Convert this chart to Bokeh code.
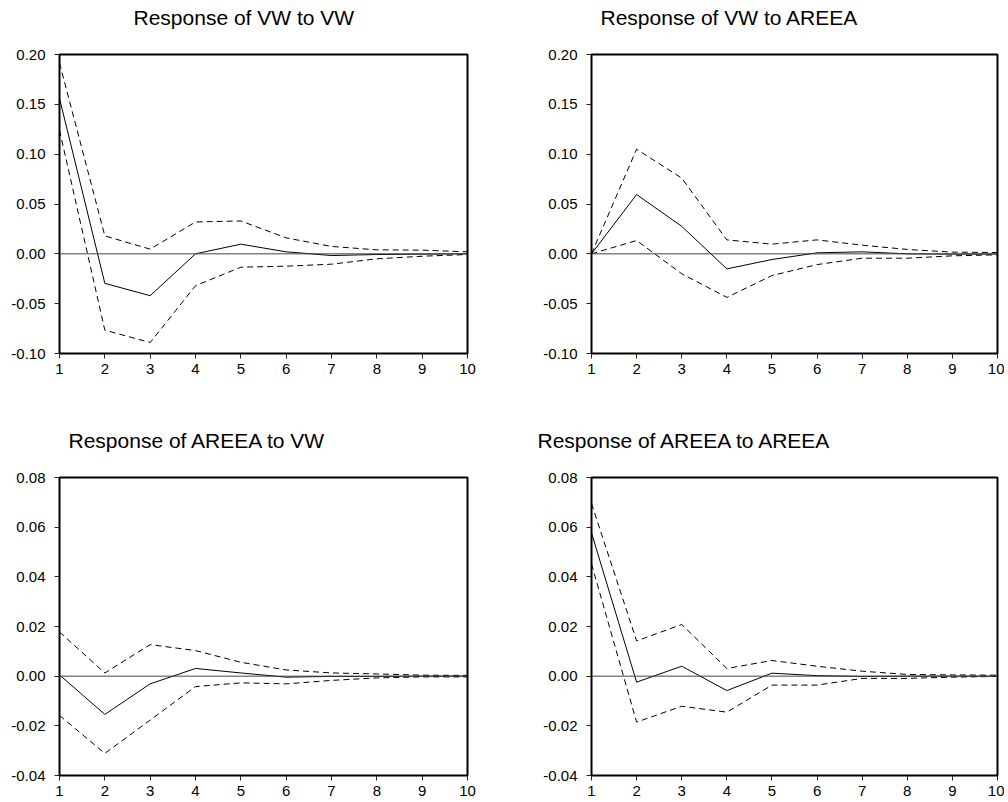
from bokeh.plotting import figure
from bokeh.models import Range1d, FixedTicker, Span, Title, PrintfTickFormatter
from bokeh.layouts import column, row
from bokeh.embed import file_html
from bokeh.resources import INLINE

periods = [1, 2, 3, 4, 5, 6, 7, 8, 9, 10]

titles = ["Response of VW to VW", "Response of VW to AREEA",
          "Response of AREEA to VW", "Response of AREEA to AREEA"]

# Response of VW to VW
vw_vw_resp = [0.156, -0.0296, -0.042, 0.0, 0.0097, 0.002, -0.0017, -0.0007, -0.0003, 0.0]
vw_vw_upper = [0.1915, 0.018, 0.0047, 0.032, 0.033, 0.016, 0.0074, 0.004, 0.0037, 0.002]
vw_vw_lower = [0.124, -0.0766, -0.089, -0.032, -0.0134, -0.0124, -0.0104, -0.005, -0.0024, -0.0007]

# Response of VW to AREEA
vw_ar_resp = [0.0, 0.0595, 0.0276, -0.0151, -0.0057, 0.001, 0.002, 0.0, -0.0003, -0.0002]
vw_ar_upper = [0.0, 0.105, 0.076, 0.014, 0.0097, 0.014, 0.0087, 0.0044, 0.0017, 0.0013]
vw_ar_lower = [0.0, 0.0134, -0.020, -0.0437, -0.0218, -0.0108, -0.0044, -0.0044, -0.002, -0.001]

# Response of AREEA to VW
ar_vw_resp = [0.0005, -0.0154, -0.0031, 0.0031, 0.0013, -0.0004, -0.0001, -0.0001, 0.0, 0.0]
ar_vw_upper = [0.0178, 0.0013, 0.0127, 0.0103, 0.0056, 0.0025, 0.0013, 0.0009, 0.0004, 0.0003]
ar_vw_lower = [-0.0158, -0.0311, -0.0177, -0.0042, -0.0027, -0.0031, -0.0017, -0.0007, -0.0003, -0.0003]

# Response of AREEA to AREEA
ar_ar_resp = [0.0577, -0.0024, 0.004, -0.0058, 0.0012, 0.0002, -0.0001, 0.0, 0.0, 0.0]
ar_ar_upper = [0.0695, 0.0142, 0.0208, 0.0031, 0.0063, 0.004, 0.002, 0.0007, 0.0005, 0.0004]
ar_ar_lower = [0.0452, -0.0185, -0.0121, -0.0145, -0.0036, -0.0036, -0.0009, -0.0009, -0.0004, -0.0001]

top_yticks = [-0.10, -0.05, 0.0, 0.05, 0.10, 0.15, 0.20]
bottom_yticks = [-0.04, -0.02, 0.0, 0.02, 0.04, 0.06, 0.08]

FONT = "Liberation Sans"


def make_panel(title, resp, upper, lower, yticks, width, height,
               bl, br, bt, bb, title_dx):
    p = figure(width=width, height=height, output_backend="svg",
               toolbar_location=None,
               x_range=Range1d(periods[0], periods[-1]),
               y_range=Range1d(yticks[0], yticks[-1]),
               min_border_left=bl, min_border_right=br,
               min_border_top=bt, min_border_bottom=bb)
    p.background_fill_color = "white"
    p.border_fill_color = "white"
    p.grid.visible = False
    p.outline_line_color = "black"
    p.outline_line_width = 2

    p.add_layout(Span(location=0, dimension="width", line_color="#444444",
                      line_width=1))
    p.line(periods, upper, line_color="black", line_width=1, line_dash="6 4")
    p.line(periods, lower, line_color="black", line_width=1, line_dash="6 4")
    p.line(periods, resp, line_color="black", line_width=1)

    p.xaxis.ticker = FixedTicker(ticks=periods)
    p.yaxis.ticker = FixedTicker(ticks=yticks)
    p.yaxis.formatter = PrintfTickFormatter(format="%.2f")
    for ax in (p.xaxis, p.yaxis):
        ax.axis_line_color = "black"
        ax.axis_line_width = 1
        ax.major_tick_out = 5
        ax.major_tick_in = 0
        ax.major_tick_line_color = "#222222"
        ax.minor_tick_line_color = None
        ax.major_label_text_font = FONT
        ax.major_label_text_font_size = "15px"
        ax.major_label_text_color = "black"
    p.xaxis.major_label_standoff = 5
    p.yaxis.major_label_standoff = 9

    # spacer (closest to the frame), then the visible title above it
    p.add_layout(Title(text=" ", text_font_size="1px", standoff=23), "above")
    p.add_layout(Title(text=title, align="left", offset=title_dx,
                       text_font=FONT, text_font_size="21px",
                       text_font_style="normal", text_color="black",
                       standoff=0), "above")
    return p


p1 = make_panel(titles[0], vw_vw_resp, vw_vw_upper, vw_vw_lower, top_yticks,
                500, 400, 59, 33, 54, 47, 74)
p2 = make_panel(titles[1], vw_ar_resp, vw_ar_upper, vw_ar_lower, top_yticks,
                504, 400, 91, 7, 54, 47, 9)
p3 = make_panel(titles[2], ar_vw_resp, ar_vw_upper, ar_vw_lower, bottom_yticks,
                500, 402, 59, 33, 77, 27, 9)
p4 = make_panel(titles[3], ar_ar_resp, ar_ar_upper, ar_ar_lower, bottom_yticks,
                504, 402, 91, 7, 77, 27, -54)

layout = column(row(p1, p2), row(p3, p4))

open("out.html", "w").write(file_html(layout, INLINE))
